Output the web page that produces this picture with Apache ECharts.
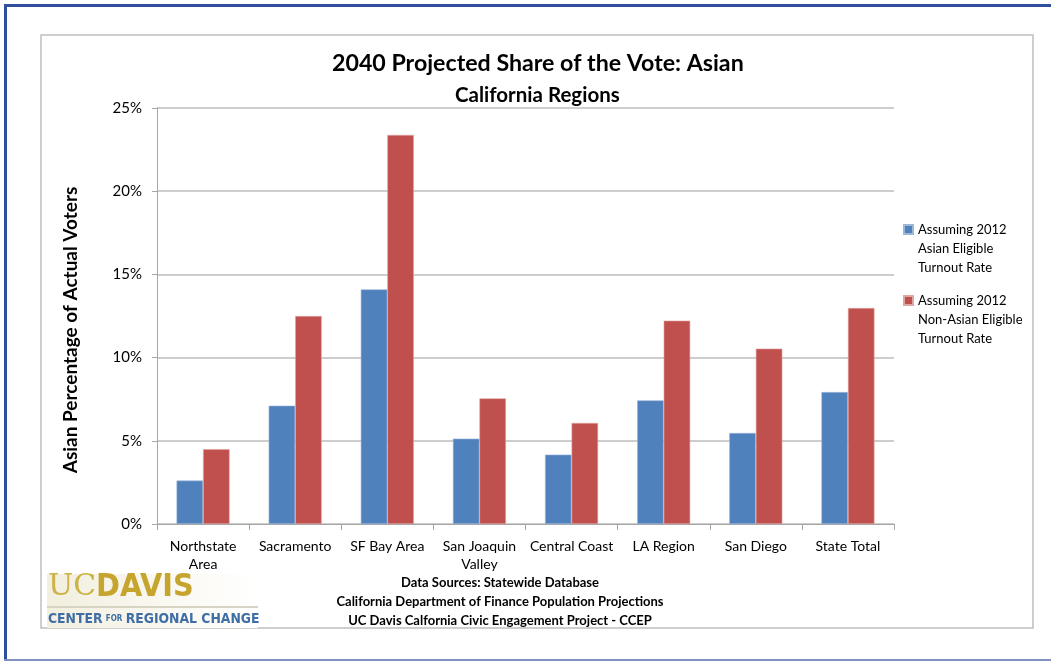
<!DOCTYPE html>
<html><head><meta charset="utf-8">
<script src="https://cdn.jsdelivr.net/npm/echarts@6/dist/echarts.min.js"></script>
<style>html,body{margin:0;padding:0;background:#fff}#c{width:1051px;height:662px}</style>
</head><body><div id="c"></div>
<script>
const categories = ['Northstate\nArea','Sacramento','SF Bay Area','San Joaquin\nValley','Central Coast','LA Region','San Diego','State Total'];
const seriesNames = ['Assuming 2012\nAsian Eligible\nTurnout Rate','Assuming 2012\nNon-Asian Eligible\nTurnout Rate'];
const asianTurnout = [2.61, 7.11, 14.1, 5.13, 4.17, 7.43, 5.47, 7.93];
const nonAsianTurnout = [4.5, 12.5, 23.38, 7.55, 6.07, 12.22, 10.54, 12.98];
const titleText = '2040 Projected Share of the Vote: Asian';
const subtitleText = 'California Regions';
const yAxisName = 'Asian Percentage of Actual Voters';
const sourceLines = ['Data Sources: Statewide Database','California Department of Finance Population Projections','UC Davis Calfornia Civic Engagement Project - CCEP'];

const FONT = 'Lato, "Open Sans", sans-serif';
const NARROW = '"Liberation Sans Narrow","DejaVu Sans Condensed",sans-serif';
const chart = echarts.init(document.getElementById('c'), null, {renderer:'canvas'});
chart.setOption({
  animation:false,
  color:['#4F81BD','#C0504D'],
  title:[
    {text:titleText, left:327, top:47, textStyle:{fontFamily:FONT,fontWeight:'bold',fontSize:23.2,color:'#000'}},
    {text:subtitleText, left:450, top:80, textStyle:{fontFamily:FONT,fontWeight:'bold',fontSize:20.5,color:'#000'}}
  ],
  legend:{
    orient:'vertical', left:903, top:182, padding:0, itemWidth:9, itemHeight:9, itemGap:-24,
    icon:'rect',
    formatter:function(n){return '\n\n'+n;},
    textStyle:{fontFamily:FONT,fontSize:13,color:'#000',lineHeight:19},
    data:seriesNames
  },
  grid:{left:157,right:157,top:108,bottom:138,containLabel:false},
  xAxis:{
    type:'category', data:categories,
    axisLine:{lineStyle:{color:'#A6A6A6',width:1}},
    axisTick:{show:true,length:6,lineStyle:{color:'#A6A6A6'}},
    axisLabel:{fontFamily:FONT,fontSize:14,color:'#000',lineHeight:18,margin:13,interval:0}
  },
  yAxis:{
    type:'value', min:0, max:25, interval:5,
    name:yAxisName, nameLocation:'middle', nameGap:77, nameRotate:90,
    nameTextStyle:{fontFamily:FONT,fontWeight:'bold',fontSize:19,color:'#000',padding:[0,28,0,0]},
    axisLine:{show:true,lineStyle:{color:'#A6A6A6'}},
    axisTick:{show:true,length:5,lineStyle:{color:'#A6A6A6'}},
    axisLabel:{formatter:'{value}%',fontFamily:FONT,fontSize:15,color:'#000',margin:15},
    splitLine:{lineStyle:{color:'#BDBDBD',width:1.5}}
  },
  series:[
    {name:seriesNames[0], type:'bar', data:asianTurnout, barWidth:'28.8%', barGap:'0%',
     itemStyle:{color:'#4F81BD',borderColor:'#9DB7DA',borderWidth:0.6}},
    {name:seriesNames[1], type:'bar', data:nonAsianTurnout, barWidth:'28.8%', barGap:'0%',
     itemStyle:{color:'#C0504D',borderColor:'#E0A6A4',borderWidth:0.6}}
  ],
  graphic:[
    {type:'rect', silent:true, z:-1, shape:{x:41,y:35,width:992,height:593}, style:{fill:'none',stroke:'#BFBFBF',lineWidth:1.5}},
    {type:'rect', silent:true, shape:{x:4,y:4,width:1047,height:3}, style:{fill:'#2F4E9E'}},
    {type:'rect', silent:true, shape:{x:4,y:4,width:3,height:657}, style:{fill:'#2F4E9E'}},
    {type:'rect', silent:true, shape:{x:4,y:659,width:1047,height:2}, style:{fill:'#8090C0'}},
    {type:'text', silent:true, x:500, y:573, style:{text:sourceLines.join('\n'),fontFamily:FONT,fontWeight:'bold',fontSize:13,lineHeight:19,fill:'#000',align:'center'}},
    {type:'group', x:47, y:574, children:[
      {type:'rect', shape:{x:0,y:0,width:211,height:54}, style:{fill:new echarts.graphic.LinearGradient(0,0,1,0,[{offset:0,color:'#F2EFDF'},{offset:1,color:'#FFFFFF'}])}},
      {type:'text', style:{x:1,y:-2,text:'UC',fontFamily:'"DejaVu Serif", serif',fontSize:30,fill:'#CDB347'}},
      {type:'text', style:{x:49,y:-2,text:'DAVIS',fontFamily:NARROW,fontWeight:'bold',fontSize:32,fill:'#C6A52E'}},
      {type:'rect', shape:{x:0,y:32,width:211,height:2}, style:{fill:'#D8D4C4'}},
      {type:'text', style:{x:1,y:38,text:'{a|CENTER} {b|FOR} {a|REGIONAL CHANGE}',
        rich:{a:{fontFamily:NARROW,fontWeight:'bold',fontSize:13.8,fill:'#3F6EA6'},b:{fontFamily:NARROW,fontWeight:'bold',fontSize:8,fill:'#3F6EA6'}}}}
    ]}
  ]
});
</script></body></html>
